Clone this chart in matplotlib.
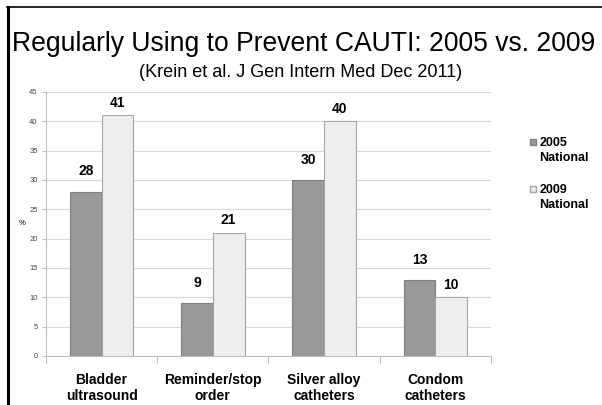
import matplotlib.pyplot as plt
from matplotlib.lines import Line2D
import numpy as np

categories = ["Bladder\nultrasound", "Reminder/stop\norder", "Silver alloy\ncatheters", "Condom\ncatheters"]
vals_2005 = [28, 9, 30, 13]
vals_2009 = [41, 21, 40, 10]
series_names = ["2005\nNational", "2009\nNational"]

plt.rcParams["font.family"] = ["Liberation Sans", "DejaVu Sans"]

fig = plt.figure(figsize=(6.02, 4.05), dpi=100)
ax = fig.add_axes([0.0764, 0.121, 0.739, 0.652])

x = np.arange(len(categories))
w = 0.285
colors = ["#999999", "#eeeeee"]
edges = ["#7f7f7f", "#a6a6a6"]
b1 = ax.bar(x - w / 2, vals_2005, w, color=colors[0], edgecolor=edges[0], linewidth=0.8, zorder=3)
b2 = ax.bar(x + w / 2, vals_2009, w, color=colors[1], edgecolor=edges[1], linewidth=0.8, zorder=3)

# label offsets differ per series in the original
for bars, off in ((b1, 9.5), (b2, 3.8)):
    for r in bars:
        ax.annotate(f"{r.get_height():.0f}", (r.get_x() + r.get_width() / 2, r.get_height()),
                    xytext=(0, off), textcoords="offset points",
                    ha="center", va="bottom", fontsize=10, fontweight="bold")

ax.set_xlim(-0.5, len(categories) - 0.5)
ax.set_ylim(0, 45)
ax.set_yticks(range(0, 46, 5))
ax.yaxis.grid(True, color="#d9d9d9", linewidth=0.8, zorder=0)
ax.tick_params(axis="y", labelsize=5.5, labelcolor="#444444", length=3, color="#bfbfbf", width=0.8, pad=3)
ax.set_ylabel("%", fontsize=5.5, rotation=0, va="center", ha="center")
ax.yaxis.set_label_coords(-0.054, 0.5)

ax.set_xticks(x)
ax.set_xticklabels(categories, fontsize=10, fontweight="bold", linespacing=1.25)
ax.tick_params(axis="x", length=0, pad=12)
ax.set_xticks(np.arange(-0.5, len(categories)), minor=True)
ax.tick_params(axis="x", which="minor", length=5, color="#bfbfbf", width=0.8)

for s in ("top", "right"):
    ax.spines[s].set_visible(False)
for s in ("left", "bottom"):
    ax.spines[s].set_color("#bfbfbf")
    ax.spines[s].set_linewidth(0.8)

# legend, marker beside first line of each label
leg_y = [0.662, 0.546]
for name, c, e, y in zip(series_names, colors, edges, leg_y):
    fig.add_artist(Line2D([0.885], [y - 0.013], marker="s", linestyle="none", markersize=4.8,
                          markerfacecolor=c, markeredgecolor=e, transform=fig.transFigure))
    fig.text(0.896, y, name, ha="left", va="top", fontsize=9, fontweight="bold", linespacing=1.3)

fig.text(0.505, 0.873, "Regularly Using to Prevent CAUTI: 2005 vs. 2009", ha="center", va="baseline", fontsize=19.1)
fig.text(0.5, 0.81, "(Krein et al. J Gen Intern Med Dec 2011)", ha="center", va="baseline", fontsize=13)

# slide frame
fig.add_artist(Line2D([0.013, 0.013], [0, 0.983], color="black", linewidth=2.2, transform=fig.transFigure))
fig.add_artist(Line2D([0.012, 1.0], [0.982, 0.982], color="black", linewidth=1.2, transform=fig.transFigure))

fig.savefig("out.png", dpi=100)
